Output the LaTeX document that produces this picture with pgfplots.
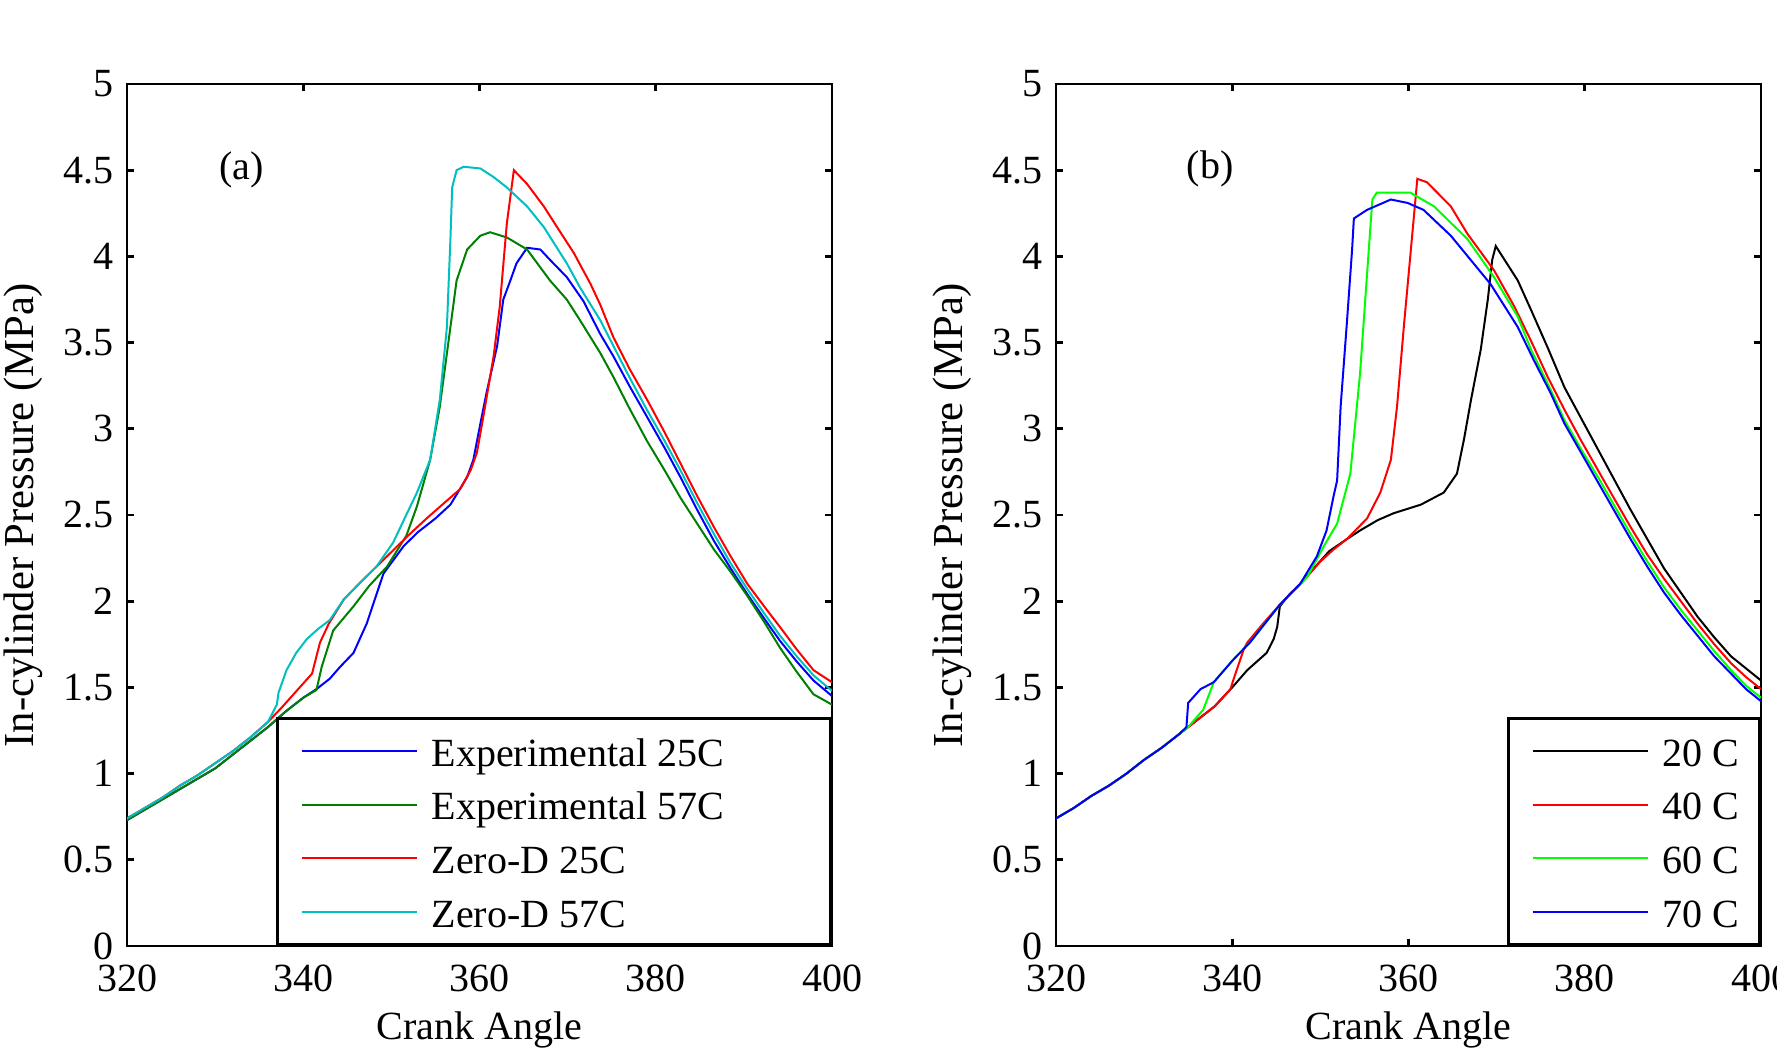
\documentclass[border=0pt]{standalone}
\usepackage{fontspec}
\setmainfont{Liberation Serif}
\usepackage{pgfplots}
\pgfplotsset{compat=1.18}
\definecolor{mgreen}{rgb}{0,0.5,0}
\definecolor{mcyan}{rgb}{0,0.75,0.75}
\definecolor{lgreen}{rgb}{0,1,0}
\begin{document}
\fontsize{12pt}{14pt}\selectfont
\begin{tikzpicture}
\pgfplotsset{
  myax/.style={
    scale only axis, width=211.5pt, height=258.6pt,
    xmin=320, xmax=400, ymin=0, ymax=5,
    xtick={320,340,360,380,400},
    ytick={0,0.5,1,1.5,2,2.5,3,3.5,4,4.5,5},
    yticklabels={0,0.5,1,1.5,2,2.5,3,3.5,4,4.5,5},
    axis line style={line width=0.8pt},
    every tick/.style={black, line width=0.8pt},
    major tick length=2.2pt,
    tick label style={font=\fontsize{12pt}{14pt}\selectfont, /pgf/number format/assume math mode=true},
    xticklabel style={yshift=-1.4pt},
    label style={font=\fontsize{12pt}{14pt}\selectfont},
    every axis x label/.style={at={(axis description cs:0.5,-0.0975)}, anchor=center},
    every axis y label/.style={at={(axis description cs:-0.1475,0.5)}, rotate=90, anchor=center, font=\fontsize{12.8pt}{14pt}\selectfont},
    xlabel={Crank Angle},
    ylabel={In-cylinder Pressure (MPa)},
    legend cell align=left,
    legend style={at={(1,0)}, anchor=south east, draw=black, fill=white, line width=0.8pt,
      inner xsep=6.6pt, inner ysep=1.7pt, row sep=0pt,
      nodes={inner sep=0pt, text height=12.6pt, text depth=3.5pt},
      font=\fontsize{12pt}{14pt}\selectfont},
    legend image code/.code={\path (0pt,0pt) (39pt,0pt); \draw[##1] (0.3pt,0pt) -- (34.8pt,0pt);},
  },
  ln/.style={line width=0.6pt},
}
% ---------------- (a) ----------------
\begin{axis}[myax, at={(38.1pt,31.8pt)}, anchor=south west]
\addplot[ln, blue] coordinates {
(320,0.73)(322,0.79)(324,0.85)(326,0.91)(328,0.97)(330,1.03)(332,1.11)(334,1.19)(336,1.27)(338,1.36)(340,1.44)(341.5,1.49)(343,1.55)(344.2,1.62)(345.7,1.70)(347.2,1.87)(349.1,2.16)(351.4,2.32)(353,2.40)(355,2.48)(356.7,2.56)(358.6,2.72)(359.3,2.82)(360.1,3.03)(360.8,3.21)(362.0,3.48)(362.7,3.75)(363.5,3.86)(364.2,3.96)(365.4,4.05)(366.9,4.04)(368.0,3.98)(369.9,3.88)(371.8,3.74)(373.7,3.55)(375.2,3.42)(377,3.25)(379,3.07)(381,2.89)(382.8,2.72)(384.7,2.53)(386.6,2.35)(388.5,2.19)(390.4,2.04)(392.3,1.90)(394.1,1.77)(396,1.65)(397.9,1.54)(400,1.45)};
\addlegendentry{\makebox[113.1pt][l]{Experimental 25C}}
\addplot[ln, mgreen] coordinates {
(320,0.73)(322,0.79)(324,0.85)(326,0.91)(328,0.97)(330,1.03)(332,1.11)(334,1.19)(336,1.27)(338,1.36)(340,1.44)(341.5,1.485)(342.1,1.62)(343.4,1.83)(345.7,1.97)(347.5,2.09)(349.5,2.20)(351.7,2.38)(352.9,2.55)(354.4,2.82)(355.5,3.13)(356.7,3.59)(357.4,3.86)(358.6,4.04)(360.1,4.12)(361.2,4.14)(363.1,4.11)(365.4,4.04)(368.0,3.86)(369.9,3.75)(371.4,3.63)(373.7,3.44)(375.2,3.30)(377,3.12)(379,2.93)(381,2.76)(382.8,2.60)(384.7,2.45)(386.6,2.30)(388.5,2.17)(390.4,2.03)(392.3,1.88)(394.1,1.73)(396,1.59)(397.9,1.46)(400,1.40)};
\addlegendentry{\makebox[113.1pt][l]{Experimental 57C}}
\addplot[ln, red] coordinates {
(320,0.74)(322,0.80)(324,0.86)(326,0.93)(328,0.99)(330,1.06)(332,1.13)(334,1.21)(336,1.30)(337.5,1.38)(339.6,1.50)(341,1.58)(341.9,1.76)(342.9,1.87)(344.6,2.01)(346.5,2.11)(348.3,2.20)(350.3,2.30)(352.1,2.39)(354,2.48)(356,2.57)(357.8,2.65)(359.0,2.76)(359.7,2.86)(360.5,3.09)(361.6,3.42)(362.3,3.71)(363.1,4.19)(363.9,4.50)(365.4,4.42)(367.3,4.29)(368.8,4.17)(370.7,4.02)(372.6,3.84)(373.7,3.72)(375.2,3.53)(377,3.35)(379.0,3.17)(381,2.98)(382.8,2.80)(384.7,2.61)(386.6,2.43)(388.5,2.26)(390.4,2.10)(392.3,1.97)(394.1,1.85)(396,1.72)(397.9,1.60)(400,1.53)};
\addlegendentry{\makebox[113.1pt][l]{Zero-D 25C}}
\addplot[ln, mcyan] coordinates {
(320,0.74)(322,0.80)(324,0.86)(326,0.93)(328,0.99)(330,1.06)(332,1.13)(334,1.21)(336,1.30)(337.0,1.40)(337.2,1.47)(338.1,1.60)(339.2,1.70)(340.4,1.78)(341.7,1.84)(343,1.89)(344.6,2.01)(346.5,2.11)(348.3,2.20)(350.2,2.34)(351.5,2.48)(352.9,2.63)(354.4,2.82)(355.5,3.17)(356.3,3.59)(356.7,4.10)(356.9,4.40)(357.4,4.50)(358.2,4.52)(360.1,4.51)(361.6,4.46)(363.1,4.40)(365.4,4.29)(367.3,4.17)(369.9,3.96)(371.4,3.82)(373.7,3.63)(375.2,3.48)(377,3.30)(379,3.11)(381,2.93)(382.8,2.76)(384.7,2.57)(386.6,2.39)(388.5,2.22)(390.4,2.07)(392.3,1.93)(394.1,1.80)(396,1.68)(397.9,1.57)(400,1.48)};
\addlegendentry{\makebox[113.1pt][l]{Zero-D 57C}}
\node[font=\fontsize{12pt}{14pt}\selectfont] at (axis cs:333,4.5) {(a)};
\end{axis}
% ---------------- (b) ----------------
\begin{axis}[myax, at={(316.8pt,31.8pt)}, anchor=south west]
\addplot[ln, black] coordinates {
(320,0.74)(322,0.80)(324,0.87)(326,0.93)(328,1.00)(330,1.08)(332,1.15)(334,1.23)(336,1.31)(338,1.39)(340,1.50)(341.7,1.60)(343.9,1.70)(344.7,1.78)(345.1,1.85)(345.4,1.97)(346.5,2.04)(347.7,2.10)(349.6,2.21)(351,2.29)(353,2.36)(354.5,2.41)(356.5,2.47)(358.3,2.51)(361.4,2.56)(364,2.63)(365.5,2.74)(366.3,2.94)(367.1,3.17)(368.2,3.46)(369,3.75)(369.5,3.98)(369.9,4.06)(372.4,3.86)(373.9,3.69)(375.8,3.47)(377.7,3.24)(379.6,3.06)(381.5,2.88)(383.4,2.70)(385.2,2.53)(387.1,2.36)(389,2.19)(390.9,2.05)(392.8,1.91)(394.7,1.79)(396.6,1.68)(398.3,1.61)(400,1.54)};
\addlegendentry{\makebox[22.5pt][l]{20 C}}
\addplot[ln, red] coordinates {
(320,0.74)(322,0.80)(324,0.87)(326,0.93)(328,1.00)(330,1.08)(332,1.15)(334,1.23)(336,1.31)(338,1.39)(339.8,1.49)(340.1,1.54)(341.3,1.72)(341.7,1.76)(343.5,1.87)(345.4,1.98)(348.1,2.12)(350,2.23)(351.5,2.30)(353,2.36)(355.3,2.48)(356.8,2.63)(358.0,2.82)(358.7,3.13)(359.5,3.61)(360.2,4.00)(361.0,4.45)(362.1,4.43)(364.8,4.29)(366.7,4.13)(369.7,3.92)(372.0,3.71)(373.9,3.51)(375.8,3.30)(377.7,3.11)(379.6,2.93)(381.5,2.76)(383.4,2.59)(385.2,2.43)(387.1,2.27)(389,2.13)(390.9,2.00)(392.8,1.87)(394.7,1.75)(396.6,1.64)(398.3,1.56)(400,1.49)};
\addlegendentry{\makebox[22.5pt][l]{40 C}}
\addplot[ln, lgreen] coordinates {
(320,0.74)(322,0.80)(324,0.87)(326,0.93)(328,1.00)(330,1.08)(332,1.15)(334,1.23)(335,1.27)(336.7,1.37)(337.9,1.53)(340.1,1.66)(342,1.76)(343.7,1.87)(345.4,1.98)(347,2.06)(348.5,2.14)(350.4,2.32)(351.9,2.45)(353.4,2.74)(354.5,3.32)(355.3,3.90)(355.9,4.33)(356.4,4.37)(360.2,4.37)(362.9,4.29)(366.7,4.10)(369.7,3.88)(372.4,3.65)(373.9,3.46)(376.1,3.23)(377.7,3.05)(379.6,2.88)(381.5,2.72)(383.4,2.55)(385.2,2.39)(387.1,2.23)(389,2.08)(390.9,1.95)(392.8,1.83)(394.7,1.71)(396.6,1.60)(398.3,1.51)(400,1.44)};
\addlegendentry{\makebox[22.5pt][l]{60 C}}
\addplot[ln, blue] coordinates {
(320,0.74)(322,0.80)(324,0.87)(326,0.93)(328,1.00)(330,1.08)(332,1.15)(334,1.23)(334.8,1.27)(335,1.41)(336.4,1.49)(337.9,1.53)(340.1,1.66)(342,1.76)(343.7,1.87)(345.4,1.98)(347.7,2.10)(349.6,2.26)(350.7,2.41)(351.5,2.61)(351.9,2.70)(352.3,3.13)(353.0,3.61)(353.6,4.04)(353.8,4.22)(355.3,4.27)(358,4.33)(359.9,4.31)(361.7,4.27)(364.8,4.12)(369.3,3.84)(372.4,3.59)(374.2,3.40)(376.1,3.21)(377.7,3.03)(379.6,2.86)(381.5,2.69)(383.4,2.52)(385.2,2.36)(387.1,2.20)(389,2.05)(390.9,1.92)(392.8,1.80)(394.7,1.68)(396.6,1.58)(398.3,1.49)(400,1.42)};
\addlegendentry{\makebox[22.5pt][l]{70 C}}
\node[font=\fontsize{12pt}{14pt}\selectfont] at (axis cs:337.5,4.51) {(b)};
\end{axis}
\pgfresetboundingbox
\useasboundingbox (0,0) rectangle (533.1pt,315.6pt);
\end{tikzpicture}
\end{document}
